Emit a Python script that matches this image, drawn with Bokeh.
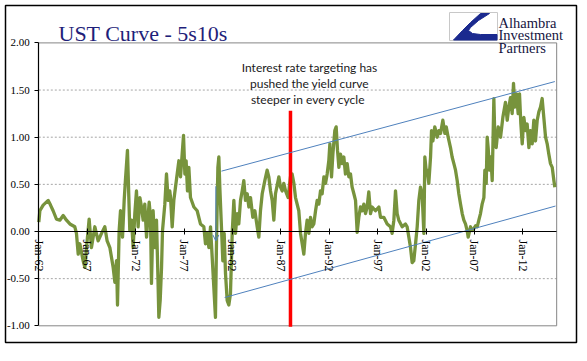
from bokeh.plotting import figure
from bokeh.models import (Range1d, LinearAxis, FixedTicker, NumeralTickFormatter,
                          Label, Arrow, OpenHead)
from bokeh.embed import file_html
from bokeh.resources import INLINE

# ---------------- data ----------------
YEARS = [
    1962.00, 1962.11, 1962.45, 1962.97, 1963.21, 1963.48, 1963.83, 1964.17, 1964.52, 1964.86,
    1965.21, 1965.72, 1965.89, 1966.07, 1966.24, 1966.58, 1966.76, 1966.93, 1967.20, 1967.44,
    1967.79, 1968.13, 1968.48, 1968.82, 1969.06, 1969.34, 1969.68, 1969.86, 1970.03, 1970.13,
    1970.30, 1970.44, 1970.65, 1970.82, 1970.96, 1971.16, 1971.27, 1971.40, 1971.58, 1971.75,
    1971.92, 1972.09, 1972.26, 1972.44, 1972.61, 1972.78, 1972.95, 1973.13, 1973.40, 1973.54,
    1973.64, 1973.81, 1973.99, 1974.16, 1974.30, 1974.40, 1974.54, 1974.68, 1974.78, 1975.02,
    1975.19, 1975.36, 1975.53, 1975.61, 1975.78, 1975.95, 1976.12, 1976.47, 1976.64, 1976.81,
    1976.95, 1977.09, 1977.22, 1977.36, 1977.50, 1977.67, 1978.02, 1978.36, 1978.70, 1979.05,
    1979.22, 1979.39, 1979.57, 1979.74, 1979.91, 1980.08, 1980.25, 1980.36, 1980.50, 1980.60,
    1980.70, 1980.84, 1981.01, 1981.15, 1981.29, 1981.46, 1981.63, 1981.80, 1981.98, 1982.15,
    1982.32, 1982.49, 1982.66, 1982.84, 1983.01, 1983.18, 1983.35, 1983.53, 1983.70, 1983.87,
    1984.11, 1984.32, 1984.56, 1984.73, 1984.90, 1985.08, 1985.35, 1985.59, 1985.76, 1985.94,
    1986.11, 1986.28, 1986.45, 1986.80, 1986.97, 1987.14, 1987.31, 1987.49, 1987.76, 1988.00,
    1988.17, 1988.35, 1988.52, 1988.86, 1989.04, 1989.21, 1989.38, 1989.55, 1989.72, 1989.90,
    1990.07, 1990.24, 1990.41, 1990.59, 1990.76, 1990.93, 1991.10, 1991.27, 1991.45, 1991.62,
    1991.79, 1991.96, 1992.07, 1992.24, 1992.38, 1992.58, 1992.72, 1992.86, 1993.00, 1993.17,
    1993.34, 1993.51, 1993.68, 1993.86, 1994.03, 1994.20, 1994.37, 1994.55, 1994.72, 1994.89,
    1995.06, 1995.23, 1995.41, 1995.58, 1995.75, 1995.92, 1996.09, 1996.27, 1996.44, 1996.78,
    1997.13, 1997.30, 1997.64, 1997.99, 1998.33, 1998.50, 1998.68, 1998.85, 1999.02, 1999.19,
    1999.54, 1999.88, 2000.05, 2000.23, 2000.40, 2000.57, 2000.74, 2000.92, 2001.09, 2001.26,
    2001.43, 2001.60, 2001.78, 2001.88, 2002.05, 2002.12, 2002.29, 2002.47, 2002.57, 2002.71,
    2002.91, 2003.16, 2003.33, 2003.50, 2003.74, 2003.95, 2004.09, 2004.29, 2004.53, 2004.70,
    2004.88, 2005.05, 2005.22, 2005.39, 2005.57, 2005.74, 2005.91, 2006.08, 2006.25, 2006.36,
    2006.60, 2006.77, 2006.94, 2007.12, 2007.29, 2007.46, 2007.63, 2007.80, 2007.98, 2008.08,
    2008.22, 2008.32, 2008.42, 2008.56, 2008.70, 2008.84, 2009.01, 2009.11, 2009.25, 2009.46,
    2009.70, 2009.94, 2010.21, 2010.39, 2010.56, 2010.73, 2010.90, 2011.04, 2011.18, 2011.35,
    2011.52, 2011.66, 2011.80, 2011.94, 2012.11, 2012.28, 2012.45, 2012.63, 2012.80, 2012.97,
    2013.14, 2013.31, 2013.49, 2013.66, 2013.83, 2014.00, 2014.17, 2014.35, 2014.52, 2014.69,
    2014.86, 2015.04, 2015.21, 2015.31,
]
SPREAD = [
    0.10, 0.22, 0.28, 0.33, 0.28, 0.22, 0.13, 0.12, 0.17, 0.12,
    0.08, 0.05, -0.02, -0.24, -0.13, -0.31, -0.38, -0.17, 0.13, -0.17,
    0.05, -0.10, -0.02, 0.05, -0.10, -0.17, -0.38, -0.54, -0.31, -0.78,
    0.01, 0.22, -0.06, 0.33, 0.56, 0.86, 0.47, 0.01, 0.12, -0.17,
    0.19, 0.43, 0.05, 0.36, 0.26, 0.12, 0.29, -0.06, 0.31, 0.15,
    -0.55, 0.22, -0.17, 0.12, -0.45, -0.91, -0.73, -0.38, 0.01, 0.29,
    0.61, 0.33, 0.43, 0.36, 0.05, 0.33, 0.47, 0.75, 0.58, 0.82,
    1.02, 0.61, 0.75, 0.43, 0.68, 0.36, 0.26, 0.22, 0.08, 0.05,
    -0.13, -0.02, -0.17, 0.05, -0.27, -0.59, -0.91, -0.10, 0.68, 0.79,
    0.47, 0.12, -0.31, -0.02, -0.45, -0.73, -0.78, -0.66, -0.02, 0.33,
    -0.02, 0.19, 0.08, 0.33, 0.43, 0.54, 0.33, 0.40, 0.26, 0.36,
    0.15, 0.22, 0.05, -0.06, 0.22, 0.40, 0.54, 0.65, 0.58, 0.43,
    0.33, 0.12, 0.40, 0.58, 0.47, 0.43, 0.51, 0.43, 0.36, 0.58,
    0.61, 0.51, 0.36, 0.22, -0.02, -0.13, -0.24, -0.02, 0.12, -0.02,
    0.15, 0.05, 0.08, 0.22, 0.33, 0.29, 0.43, 0.40, 0.58, 0.51,
    0.61, 0.75, 0.93, 0.58, 0.82, 1.07, 1.11, 0.86, 0.68, 0.82,
    0.72, 0.79, 0.61, 0.72, 0.58, 0.61, 0.47, 0.40, 0.33, -0.01,
    0.15, 0.26, 0.22, 0.29, 0.19, 0.26, 0.42, 0.19, 0.26, 0.22,
    0.26, 0.15, 0.15, 0.08, 0.05, -0.02, 0.12, 0.43, 0.19, 0.12,
    0.05, 0.08, 0.05, -0.06, -0.17, -0.33, -0.31, -0.13, 0.05, 0.33,
    0.47, 0.40, -0.02, 0.79, 0.61, 0.65, 0.51, 0.79, 1.07, 0.96,
    1.11, 1.00, 1.07, 1.04, 1.18, 1.04, 1.11, 1.00, 0.89, 0.79,
    0.72, 0.65, 0.54, 0.40, 0.29, 0.19, 0.12, 0.08, 0.01, -0.06,
    0.05, 0.01, 0.03, 0.06, 0.05, 0.12, 0.19, 0.29, 0.36, 0.65,
    0.51, 1.00, 0.89, 0.65, 0.79, 0.54, 1.41, 1.00, 0.89, 1.11,
    1.00, 1.21, 1.37, 1.18, 1.32, 1.42, 1.25, 1.57, 1.32, 1.46,
    1.25, 1.46, 1.14, 0.93, 1.21, 1.07, 1.14, 0.89, 1.07, 0.93,
    1.18, 0.96, 1.18, 1.27, 1.32, 1.41, 1.21, 1.00, 0.93, 0.82,
    0.72, 0.68, 0.54, 0.47,
]

X_TICKS = [1962, 1967, 1972, 1977, 1982, 1987, 1992, 1997, 2002, 2007, 2012]
X_TICK_LABELS = ["Jan-62", "Jan-67", "Jan-72", "Jan-77", "Jan-82", "Jan-87",
                 "Jan-92", "Jan-97", "Jan-02", "Jan-07", "Jan-12"]
Y_TICKS = [-1.0, -0.5, 0.0, 0.5, 1.0, 1.5, 2.0]
Y_GRID = [-0.5, 0.5, 1.0, 1.5]
X_START, X_END = 1962.0, 2015.5
Y_MIN, Y_MAX = -1.0, 2.0

# policy marker and trend channel
MARKER_YEAR, MARKER_TOP = 1988.0, 1.28
UPPER_X, UPPER_Y = [1980.87, 2015.31], [0.64, 1.59]
LOWER_X, LOWER_Y = [1981.20, 2015.38], [-0.70, 0.27]
ARROW_X, ARROW_Y = [1980.29, 1980.29], [0.48, -0.10]

TITLE = "UST Curve - 5s10s"
NOTE = ["Interest rate targeting has", "pushed the yield curve", "steeper  in every cycle"]
LOGO_TEXT = ["Alhambra", "Investment", "Partners"]

# ---------------- layout (page pixels) ----------------
ORIGIN = 0
W, H = 578, 346
X0_PAGE, PX_PER_YEAR = 38.3, 9.68
Y0_PAGE, PX_PER_UNIT = 231.0, 94.3


def sx(px):
    return X_START + (px - X0_PAGE) / PX_PER_YEAR


def sy(py):
    return (Y0_PAGE - py) / PX_PER_UNIT


p = figure(width=W, height=H, output_backend="svg", toolbar_location=None,
           x_range=Range1d(sx(ORIGIN), sx(ORIGIN + W)),
           y_range=Range1d(sy(ORIGIN + H), sy(ORIGIN)),
           x_axis_type=None, y_axis_type=None, min_border=0)
p.background_fill_color = "white"
p.border_fill_color = "white"
p.outline_line_color = None

# outer chart border
p.quad(left=[sx(5)], right=[sx(576)], top=[sy(5)], bottom=[sy(342)],
       fill_color=None, line_color="black", line_width=1.5)

# gridlines
p.segment(x0=[X_START] * len(Y_GRID), x1=[X_END] * len(Y_GRID), y0=Y_GRID, y1=Y_GRID,
          line_color="#A6A6A6", line_width=1, line_dash="2 2")
# plot-area border (top, right, bottom)
p.line(x=[X_START, X_END, X_END, X_START], y=[Y_MAX, Y_MAX, Y_MIN, Y_MIN],
       line_color="#868686", line_width=1)

# series
p.line(YEARS, SPREAD, line_color="#77933C", line_width=3.3, line_join="round")

# red marker
p.segment(x0=[MARKER_YEAR], x1=[MARKER_YEAR], y0=[MARKER_TOP], y1=[Y_MIN - 0.01],
          line_color="#FF0000", line_width=3.5)
# trend channel
p.line(UPPER_X, UPPER_Y, line_color="#4F81BD", line_width=1)
p.line(LOWER_X, LOWER_Y, line_color="#4F81BD", line_width=1)
p.add_layout(Arrow(end=OpenHead(size=6, line_color="#4F81BD", line_width=1),
                   x_start=ARROW_X[0], y_start=ARROW_Y[0], x_end=ARROW_X[1], y_end=ARROW_Y[1],
                   line_color="#4F81BD", line_width=1))

# axes
xaxis = LinearAxis(fixed_location=0, bounds=(X_START, X_END),
                   ticker=FixedTicker(ticks=X_TICKS),
                   major_label_overrides={t: l for t, l in zip(X_TICKS, X_TICK_LABELS)},
                   major_label_orientation="vertical",
                   major_label_text_font="Liberation Serif",
                   major_label_text_font_size="12px",
                   major_label_text_color="black",
                   axis_line_color="black", axis_line_width=1.2,
                   major_tick_in=3, major_tick_out=3, major_tick_line_color="black",
                   minor_tick_line_color=None, major_label_standoff=5)
p.add_layout(xaxis, "below")
yaxis = LinearAxis(fixed_location=X_START, bounds=(Y_MIN, Y_MAX),
                   ticker=FixedTicker(ticks=Y_TICKS),
                   formatter=NumeralTickFormatter(format="0.00"),
                   major_label_text_font="Liberation Serif",
                   major_label_text_font_size="11px",
                   major_label_text_color="black",
                   axis_line_color="black", axis_line_width=1.2,
                   major_tick_in=0, major_tick_out=4, major_tick_line_color="black",
                   minor_tick_line_color=None, major_label_standoff=5)
p.add_layout(yaxis, "left")

# title
p.add_layout(Label(x=sx(58), y=sy(33), text=TITLE, text_font="Liberation Serif",
                   text_font_size="22px", text_color="#1F1F7A", text_baseline="alphabetic"))

# annotation
for i, line in enumerate(NOTE):
    p.add_layout(Label(x=sx(309), y=sy(67 + 16 * i), text=line, text_font="Lato",
                       text_font_size="12px", text_color="#1A1A1A",
                       text_align="center", text_baseline="middle"))

# logo
p.quad(left=[sx(449)], right=[sx(497)], top=[sy(12)], bottom=[sy(40)],
       fill_color="white", line_color="#C8C8C8", line_width=1)
logo_px = [(480, 13), (489, 13), (478, 20), (470, 27), (468, 30), (472, 33), (480, 34),
           (496.5, 34), (496.5, 39.5), (453, 39.5), (462, 30), (470, 22)]
p.patch([sx(a) for a, b in logo_px], [sy(b) for a, b in logo_px],
        fill_color="#1B2A8F", line_color="#1B2A8F")
for i, line in enumerate(LOGO_TEXT):
    p.add_layout(Label(x=sx(498), y=sy(22.5 + 12.4 * i), text=line,
                       text_font="Liberation Serif", text_font_size="14.5px",
                       text_color="#15153F", text_baseline="alphabetic"))

open("out.html", "w").write(file_html(p, INLINE))
